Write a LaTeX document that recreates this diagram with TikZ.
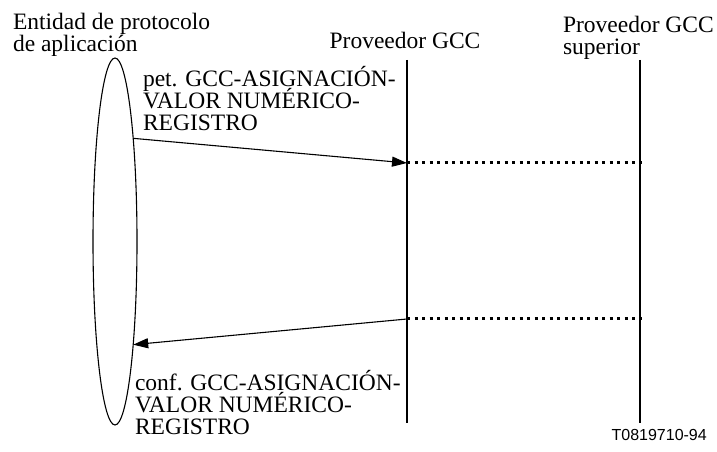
\documentclass[tikz,border=0pt]{standalone}
\usepackage{fontspec}
\setmainfont{Liberation Serif}
\newfontfamily\figsans{Liberation Sans}
\usetikzlibrary{shapes.geometric,arrows.meta}
\setlength{\lineskiplimit}{-100bp}
\tikzset{
  lbl/.style={inner sep=0pt, outer sep=0pt, align=left, font=\fontsize{23.5bp}{22bp}\selectfont},
  lifeline/.style={line width=1.1bp},
  msg/.style={line width=1.1bp, -{Triangle[length=15bp,width=10bp]}},
  dotline/.style={line width=3bp, dash pattern=on 3bp off 4.5bp},
  entity/.style={draw, ellipse, line width=1.1bp, minimum width=44bp, minimum height=367bp, inner sep=0pt, outer sep=0pt}
}
\begin{document}
\begin{tikzpicture}[x=1bp,y=-1bp]
\useasboundingbox (0,0) rectangle (717,452);
\node[entity] (ent) at (115,241.5) {};
\coordinate (p1top) at (407,60);
\coordinate (p1bot) at (407,423);
\coordinate (p2top) at (640,60);
\coordinate (p2bot) at (640,423);
\coordinate (m1) at (407,163);
\coordinate (m1r) at (641.5,163);
\coordinate (m2) at (407,319);
\coordinate (m2r) at (641.5,319);
\draw[lifeline] (p1top) -- (p1bot);
\draw[lifeline] (p2top) -- (p2bot);
\draw[msg] (ent.80) -- (m1);
\draw[dotline] (m1) -- (m1r);
\draw[dotline] (m2) -- (m2r);
\draw[msg] (m2) -- (ent.-80);
\node[lbl, anchor=base west] (tEnt) at (13,52) {Entidad de protocolo\\de aplicación};
\node[lbl, anchor=base] (tP1) at (405,49) {Proveedor GCC};
\node[lbl, anchor=base west] (tP2) at (563,55) {Proveedor GCC\\superior};
\node[lbl, anchor=base west] (tReq) at (143,131) {pet. GCC-ASIGNACIÓN-\\VALOR NUMÉRICO-\\REGISTRO};
\node[lbl, anchor=base west] (tConf) at (135,434) {conf. GCC-ASIGNACIÓN-\\VALOR NUMÉRICO-\\REGISTRO};
\node[inner sep=0pt, anchor=base east, font=\figsans\fontsize{16bp}{18bp}\selectfont] (tId) at (707,440) {T0819710-94};
\end{tikzpicture}
\end{document}
